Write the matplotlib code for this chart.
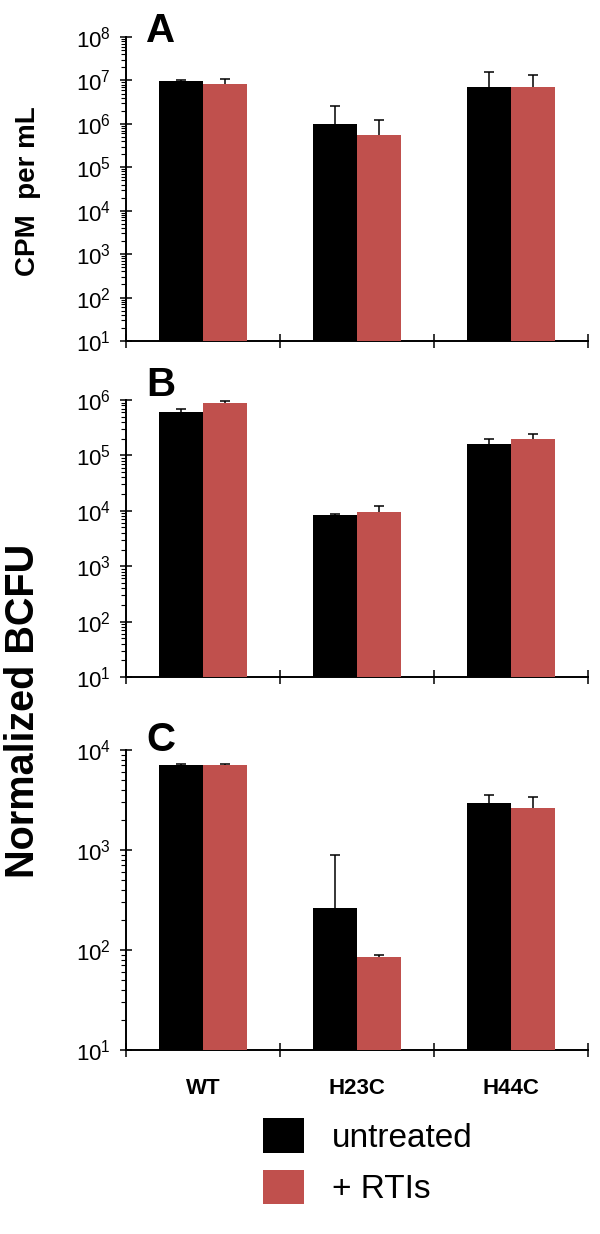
import numpy as np
import matplotlib
matplotlib.use("Agg")
import matplotlib.pyplot as plt
from matplotlib.ticker import LogLocator, FixedLocator, NullFormatter, LogFormatterMathtext
from matplotlib.patches import Patch

plt.rcParams['font.family'] = ['Liberation Sans', 'DejaVu Sans']
plt.rcParams['mathtext.fontset'] = 'custom'
plt.rcParams['mathtext.rm'] = 'Liberation Sans'

# ---- data ----
categories = ['WT', 'H23C', 'H44C']
series_names = ['untreated', '+ RTIs']

A_untreated = [9.5e6, 1.0e6, 6.9e6]
A_untreated_err = [0.5e6, 1.6e6, 8.7e6]
A_rti = [8.4e6, 5.5e5, 6.9e6]
A_rti_err = [2.6e6, 6.5e5, 6.4e6]

B_untreated = [6.0e5, 8.5e3, 1.6e5]
B_untreated_err = [0.9e5, 0.3e3, 0.4e5]
B_rti = [8.8e5, 9.7e3, 2.0e5]
B_rti_err = [0.8e5, 2.4e3, 0.4e5]

C_untreated = [7.0e3, 264, 2.95e3]
C_untreated_err = [0.2e3, 621, 0.58e3]
C_rti = [7.0e3, 84.5, 2.61e3]
C_rti_err = [0.2e3, 4.0, 0.81e3]

ylims = [(10, 1e8), (10, 1e6), (10, 1e4)]
panel_letters = ['A', 'B', 'C']

BLACK = '#000000'
RED = '#C0504D'

W, H = 600, 1234
fig = plt.figure(figsize=(W / 100, H / 100), dpi=100)

def rect(left, top, right, bottom):
    return [left / W, 1 - bottom / H, (right - left) / W, (bottom - top) / H]

axes = [
    fig.add_axes(rect(126, 37, 588, 341)),
    fig.add_axes(rect(126, 400, 588, 677)),
    fig.add_axes(rect(126, 750, 588, 1050)),
]

panels = [
    (A_untreated, A_untreated_err, A_rti, A_rti_err),
    (B_untreated, B_untreated_err, B_rti, B_rti_err),
    (C_untreated, C_untreated_err, C_rti, C_rti_err),
]

x = np.arange(len(categories))
bw = 0.286

for i, (ax, (u, ue, r, re_)) in enumerate(zip(axes, panels)):
    ax.set_yscale('log')
    ax.bar(x - bw / 2, u, width=bw, color=BLACK, zorder=3, linewidth=0)
    ax.bar(x + bw / 2, r, width=bw, color=RED, zorder=3, linewidth=0)
    ax.errorbar(x - bw / 2, u, yerr=ue, fmt='none', ecolor='black',
                elinewidth=1.1, capsize=3.6, capthick=1.1, zorder=2)
    ax.errorbar(x + bw / 2, r, yerr=re_, fmt='none', ecolor='black',
                elinewidth=1.1, capsize=3.6, capthick=1.1, zorder=2)
    ax.set_ylim(*ylims[i])
    ax.set_xlim(-0.5, len(categories) - 0.5)

    for s in ['top', 'right']:
        ax.spines[s].set_visible(False)
    for s in ['left', 'bottom']:
        ax.spines[s].set_linewidth(1.4)

    ax.yaxis.set_major_locator(LogLocator(base=10, numticks=100))
    ax.yaxis.set_minor_locator(LogLocator(base=10, subs=np.arange(2, 10), numticks=100))
    ax.yaxis.set_major_formatter(LogFormatterMathtext())
    ax.yaxis.set_minor_formatter(NullFormatter())
    ax.tick_params(axis='y', which='major', direction='inout', length=8.6,
                   width=1.1, labelsize=16, pad=6.5)
    ax.tick_params(axis='y', which='minor', direction='out', length=3.4, width=0.8)

    ax.xaxis.set_major_locator(FixedLocator(np.arange(len(categories) + 1) - 0.5))
    ax.xaxis.set_major_formatter(NullFormatter())
    ax.xaxis.set_minor_locator(FixedLocator(x))
    ax.tick_params(axis='x', which='major', direction='inout', length=9.5, width=1.1)
    if i == 2:
        ax.set_xticks(x, categories, minor=True)
        ax.tick_params(axis='x', which='minor', length=0, pad=20, labelsize=16)
        for lab in ax.get_xticklabels(minor=True):
            lab.set_fontweight('bold')
    else:
        ax.xaxis.set_minor_formatter(NullFormatter())
        ax.tick_params(axis='x', which='minor', length=0)

# panel letters
letter_tops = [12, 366, 721]
for L, top in zip(panel_letters, letter_tops):
    fig.text(146 / W, 1 - top / H, L, fontsize=29, fontweight='bold',
             ha='left', va='top')

# y labels
fig.text(28 / W, 1 - 191 / H, 'CPM  per mL', fontsize=20, fontweight='bold',
         rotation=90, ha='center', va='center')
fig.text(23 / W, 1 - 711 / H, 'Normalized BCFU', fontsize=28.5, fontweight='bold',
         rotation=90, ha='center', va='center')

handles = [Patch(facecolor=BLACK, edgecolor='none'),
           Patch(facecolor=RED, edgecolor='none')]
fig.legend(handles, series_names, loc='upper left',
           bbox_to_anchor=(263 / W, 1 - 1118 / H), frameon=False,
           fontsize=24, handlelength=1.23, handleheight=1.23,
           handletextpad=0.84, labelspacing=0.48, borderpad=0, borderaxespad=0)

fig.savefig('out.png', dpi=100)
